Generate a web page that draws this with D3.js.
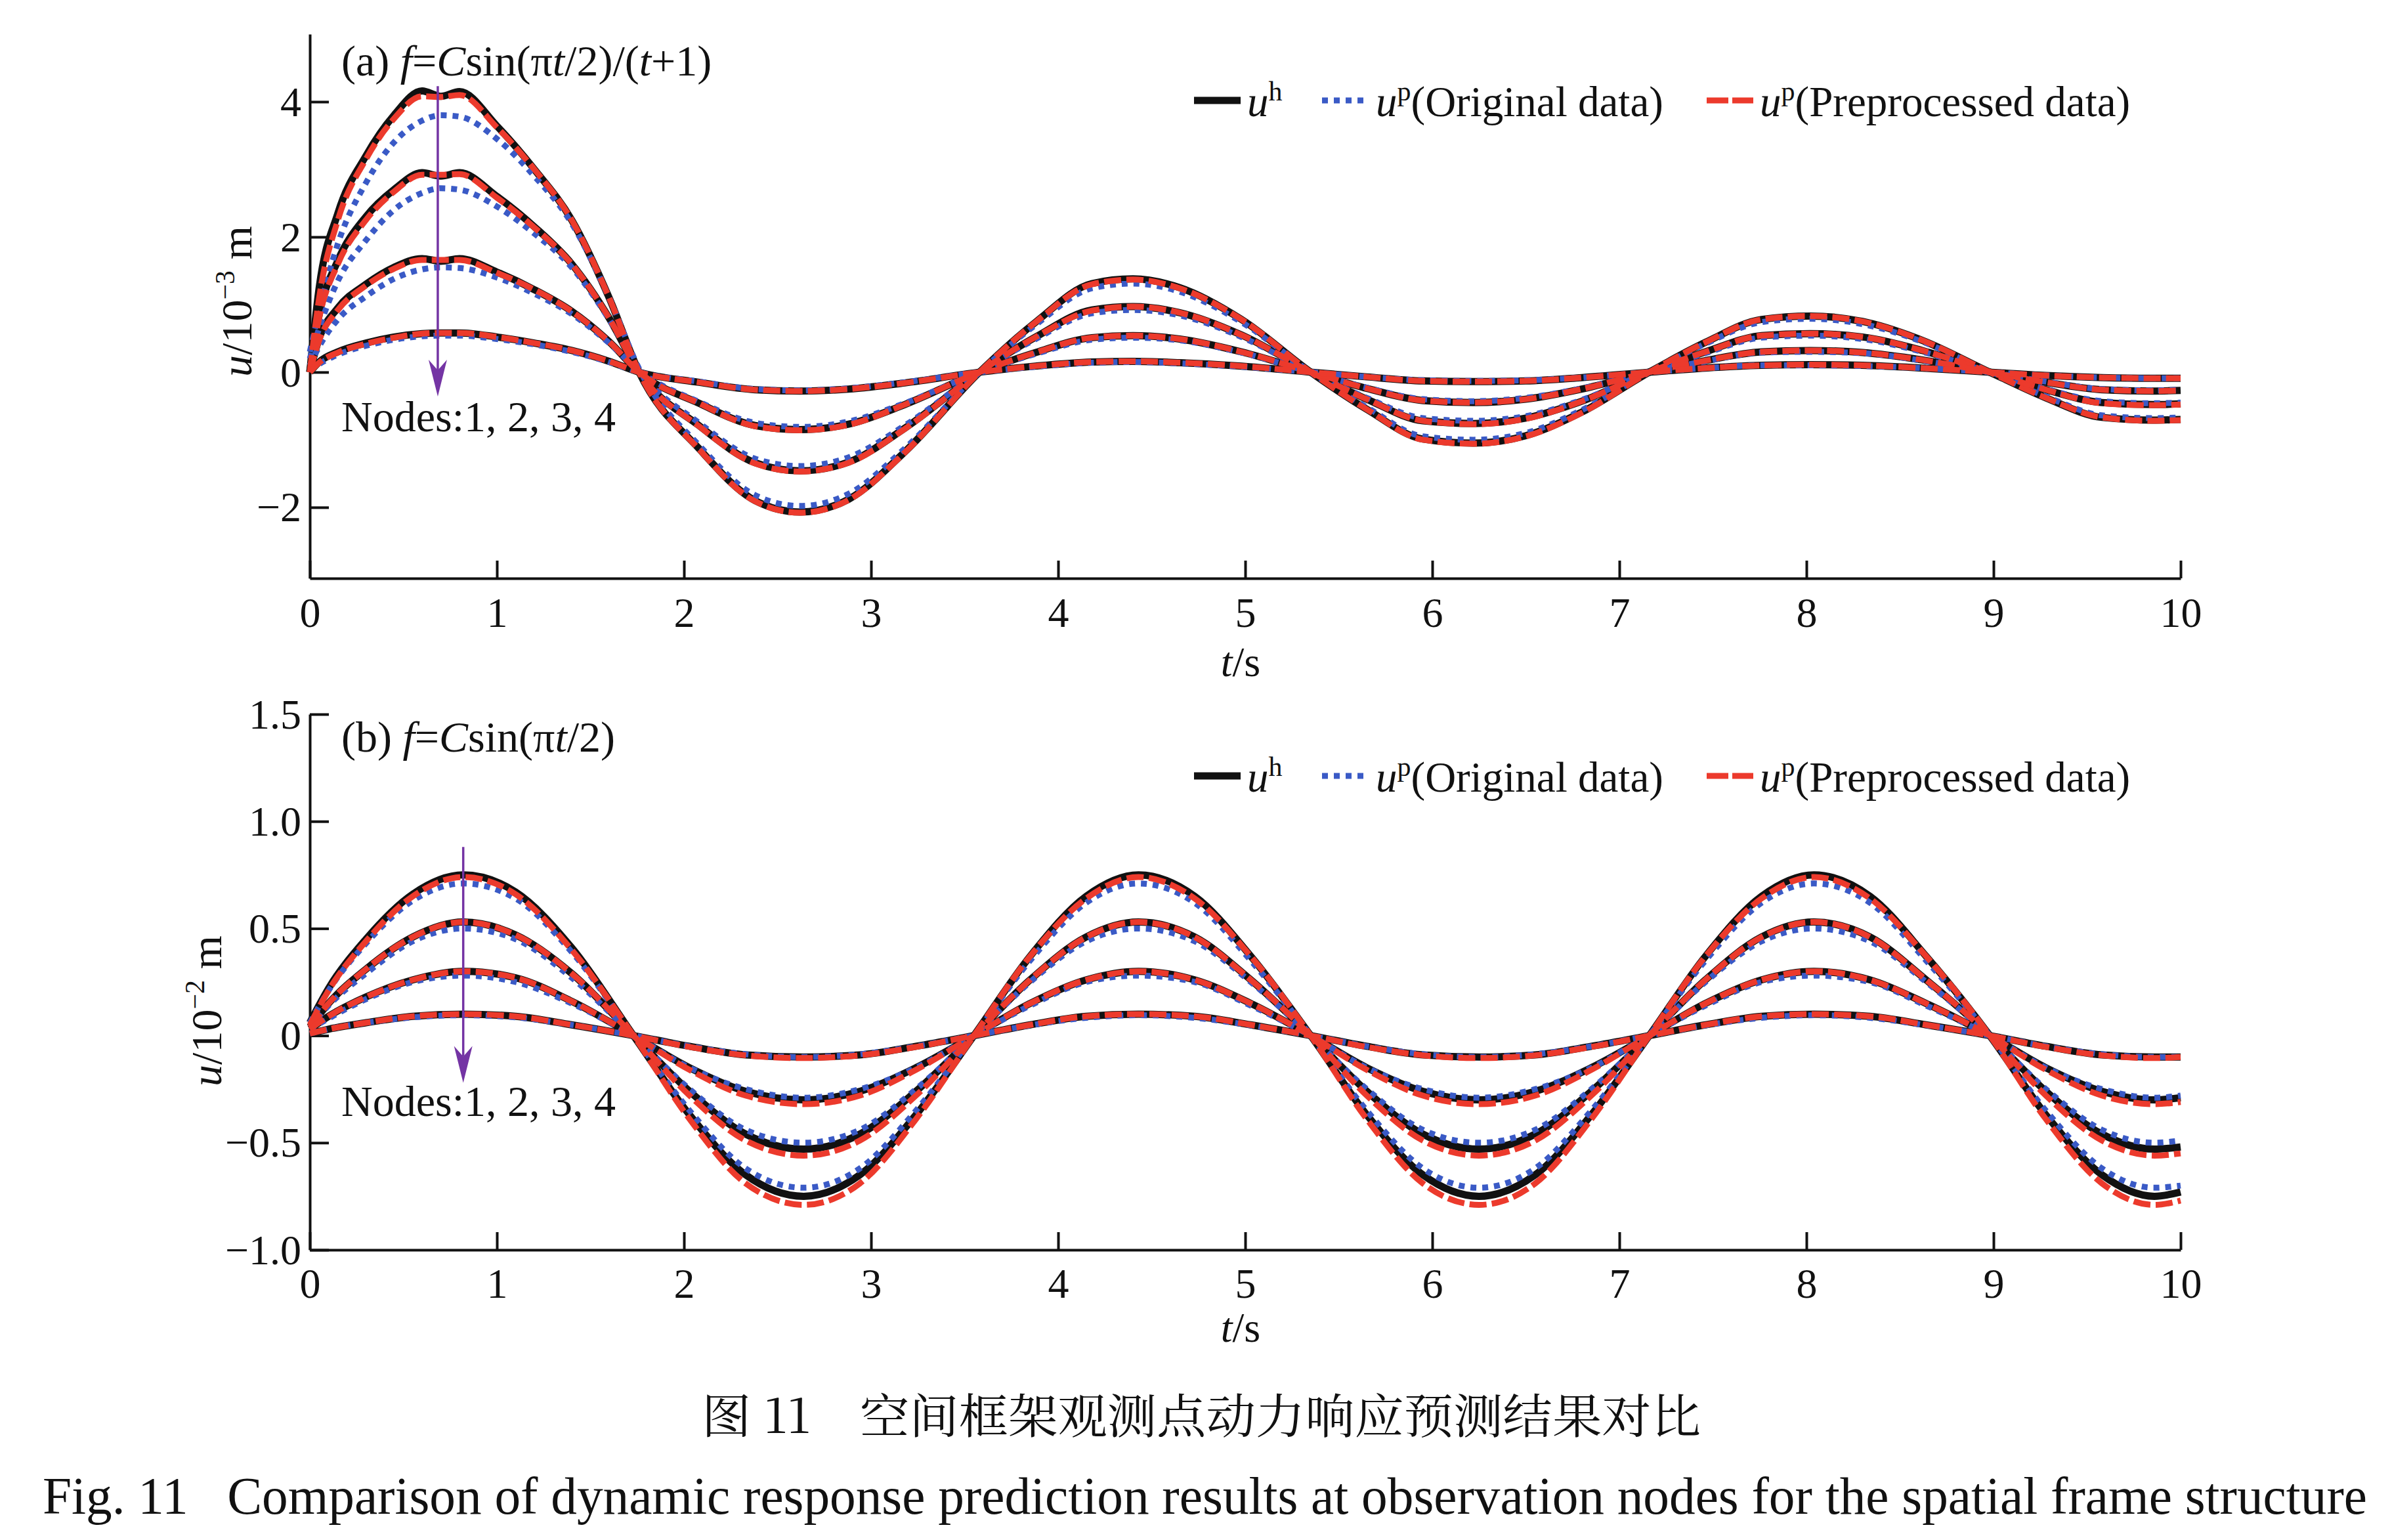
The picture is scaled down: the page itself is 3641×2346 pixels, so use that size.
<!DOCTYPE html>
<html>
<head>
<meta charset="utf-8">
<title>Fig. 11 dynamic response prediction</title>
<script src="https://d3js.org/d3.v7.min.js"></script>
<style>
  body { margin: 0; background: #fff; }
  svg text { font-family: "Liberation Serif", "DejaVu Serif", serif; fill: #111; }
  .axis path, .axis line { stroke: #111; stroke-width: 4; }
  .tick text { font-size: 64px; }
  .cn { font-family: "Noto Serif CJK SC", "Noto Sans CJK SC", sans-serif; }
</style>
</head>
<body>
<div id="chart"></div>
<script>
// ---- panel (a): f = C sin(pi t/2)/(t+1), u in 1e-3 m ----
const tA = [0, 0.05, 0.15, 0.3, 0.45, 0.6, 0.7, 0.8, 1.0, 1.2, 1.4, 1.6, 1.76,
  2.08, 2.38, 2.62, 2.88, 3.18, 3.58, 3.88, 4.18, 4.4, 4.65, 4.98, 5.35,
  5.65, 5.95, 6.22, 6.5, 6.8, 7.16, 7.46, 7.76, 8.02, 8.3, 8.62, 8.98,
  9.28, 9.58, 9.85, 10];

// u^h (reference response), nodes 1-4
const hA1 = [0, 1.25, 2.35, 3.2, 3.8, 4.16, 4.08, 4.15, 3.64, 3.0, 2.25, 1.1, 0, -1.13, -1.9, -2.07, -1.88, -1.18, 0, 0.74, 1.31, 1.38, 1.25, 0.78, 0, -0.55, -0.99, -1.05, -0.94, -0.59, 0, 0.44, 0.78, 0.83, 0.75, 0.47, 0, -0.38, -0.67, -0.71, -0.70];
const hA2 = [0, 0.85, 1.65, 2.3, 2.7, 2.95, 2.9, 2.95, 2.6, 2.15, 1.6, 0.8, 0, -0.79, -1.34, -1.46, -1.33, -0.83, 0, 0.52, 0.92, 0.97, 0.88, 0.55, 0, -0.4, -0.72, -0.76, -0.68, -0.43, 0, 0.3, 0.54, 0.57, 0.52, 0.32, 0, -0.26, -0.45, -0.48, -0.47];
const hA3 = [0, 0.5, 0.95, 1.3, 1.55, 1.68, 1.64, 1.68, 1.48, 1.22, 0.9, 0.45, 0, -0.46, -0.79, -0.85, -0.77, -0.48, 0, 0.29, 0.51, 0.54, 0.49, 0.3, 0, -0.24, -0.42, -0.45, -0.4, -0.25, 0, 0.17, 0.3, 0.32, 0.29, 0.18, 0, -0.15, -0.26, -0.28, -0.27];
const hA4 = [0, 0.15, 0.3, 0.43, 0.52, 0.57, 0.58, 0.58, 0.52, 0.43, 0.32, 0.16, 0, -0.15, -0.26, -0.28, -0.25, -0.16, 0, 0.09, 0.15, 0.16, 0.14, 0.09, 0, -0.07, -0.13, -0.14, -0.13, -0.08, 0, 0.06, 0.1, 0.11, 0.1, 0.06, 0, -0.05, -0.08, -0.09, -0.09];

// u^p from original data
const oA1 = [0.3, 0.9, 1.9, 2.8, 3.4, 3.72, 3.8, 3.78, 3.45, 2.9, 2.2, 1.1, 0.05, -1.08, -1.82, -1.98, -1.8, -1.13, 0, 0.7, 1.24, 1.31, 1.19, 0.74, 0, -0.52, -0.95, -1.0, -0.9, -0.56, 0, 0.42, 0.74, 0.79, 0.71, 0.45, 0, -0.36, -0.64, -0.68, -0.67];
const oA2 = [0.2, 0.65, 1.35, 1.95, 2.4, 2.65, 2.72, 2.7, 2.45, 2.05, 1.55, 0.78, 0.03, -0.75, -1.28, -1.39, -1.26, -0.79, 0, 0.49, 0.87, 0.92, 0.84, 0.52, 0, -0.38, -0.68, -0.72, -0.65, -0.41, 0, 0.28, 0.51, 0.54, 0.49, 0.3, 0, -0.25, -0.43, -0.46, -0.45];
const oA3 = [0.1, 0.38, 0.78, 1.12, 1.38, 1.52, 1.55, 1.54, 1.4, 1.16, 0.86, 0.43, 0.02, -0.44, -0.75, -0.81, -0.73, -0.46, 0, 0.27, 0.48, 0.51, 0.47, 0.29, 0, -0.23, -0.4, -0.43, -0.38, -0.24, 0, 0.16, 0.29, 0.3, 0.28, 0.17, 0, -0.14, -0.25, -0.27, -0.26];
const oA4 = [0.03, 0.12, 0.26, 0.39, 0.48, 0.53, 0.54, 0.54, 0.49, 0.41, 0.3, 0.15, 0, -0.14, -0.25, -0.27, -0.24, -0.15, 0, 0.08, 0.14, 0.15, 0.13, 0.08, 0, -0.07, -0.12, -0.13, -0.12, -0.08, 0, 0.06, 0.1, 0.1, 0.09, 0.06, 0, -0.05, -0.08, -0.09, -0.09];

// u^p from preprocessed data
const pA1 = [0, 1.1, 2.25, 3.15, 3.75, 4.08, 4.07, 4.1, 3.62, 3.0, 2.25, 1.1, 0, -1.14, -1.91, -2.08, -1.89, -1.19, 0, 0.74, 1.3, 1.37, 1.24, 0.78, 0, -0.55, -1.0, -1.06, -0.95, -0.6, 0, 0.44, 0.78, 0.83, 0.75, 0.47, 0, -0.38, -0.67, -0.72, -0.71];
const pA2 = [0, 0.8, 1.6, 2.25, 2.67, 2.92, 2.92, 2.93, 2.58, 2.14, 1.6, 0.8, 0, -0.8, -1.35, -1.47, -1.34, -0.84, 0, 0.52, 0.91, 0.97, 0.88, 0.55, 0, -0.4, -0.72, -0.77, -0.69, -0.43, 0, 0.3, 0.54, 0.57, 0.52, 0.32, 0, -0.26, -0.46, -0.49, -0.48];
const pA3 = [0, 0.47, 0.92, 1.28, 1.53, 1.66, 1.66, 1.66, 1.47, 1.22, 0.9, 0.45, 0, -0.46, -0.8, -0.86, -0.78, -0.48, 0, 0.29, 0.51, 0.54, 0.49, 0.3, 0, -0.24, -0.42, -0.45, -0.4, -0.25, 0, 0.17, 0.3, 0.32, 0.29, 0.18, 0, -0.15, -0.26, -0.28, -0.27];
const pA4 = [0, 0.14, 0.29, 0.42, 0.51, 0.57, 0.58, 0.58, 0.52, 0.43, 0.32, 0.16, 0, -0.15, -0.26, -0.28, -0.25, -0.16, 0, 0.09, 0.15, 0.16, 0.14, 0.09, 0, -0.07, -0.13, -0.14, -0.13, -0.08, 0, 0.06, 0.1, 0.11, 0.1, 0.06, 0, -0.05, -0.08, -0.09, -0.09];

// ---- panel (b): f = C sin(pi t/2), u in 1e-2 m ----
const tB = [0, 0.1, 0.3, 0.55, 0.82, 1.1, 1.4, 1.73, 2.03, 2.33, 2.64, 2.94, 3.24, 3.55,
  3.85, 4.15, 4.43, 4.73, 5.03, 5.35, 5.65, 5.95, 6.25, 6.55, 6.85, 7.16,
  7.46, 7.76, 8.04, 8.34, 8.64, 8.98, 9.28, 9.58, 9.86, 10];

const hB1 = [0.06, 0.22, 0.45, 0.66, 0.75, 0.67, 0.41, 0, -0.37, -0.65, -0.75, -0.65, -0.37, 0, 0.37, 0.65, 0.75, 0.65, 0.37, 0, -0.37, -0.65, -0.75, -0.65, -0.37, 0, 0.37, 0.65, 0.75, 0.65, 0.37, 0, -0.37, -0.65, -0.75, -0.73];
const hB2 = [0.04, 0.15, 0.31, 0.46, 0.53, 0.47, 0.29, 0, -0.26, -0.46, -0.53, -0.46, -0.26, 0, 0.26, 0.46, 0.53, 0.46, 0.26, 0, -0.26, -0.46, -0.53, -0.46, -0.26, 0, 0.26, 0.46, 0.53, 0.46, 0.26, 0, -0.26, -0.46, -0.53, -0.52];
const hB3 = [0.03, 0.09, 0.18, 0.26, 0.3, 0.27, 0.16, 0, -0.15, -0.26, -0.3, -0.26, -0.15, 0, 0.15, 0.26, 0.3, 0.26, 0.15, 0, -0.15, -0.26, -0.3, -0.26, -0.15, 0, 0.15, 0.26, 0.3, 0.26, 0.15, 0, -0.15, -0.26, -0.3, -0.29];
const hB4 = [0.01, 0.03, 0.06, 0.09, 0.1, 0.09, 0.05, 0, -0.05, -0.09, -0.1, -0.09, -0.05, 0, 0.05, 0.09, 0.1, 0.09, 0.05, 0, -0.05, -0.09, -0.1, -0.09, -0.05, 0, 0.05, 0.09, 0.1, 0.09, 0.05, 0, -0.05, -0.09, -0.1, -0.1];

const oB1 = [0.06, 0.21, 0.43, 0.63, 0.71, 0.64, 0.39, 0, -0.35, -0.62, -0.71, -0.62, -0.35, 0, 0.35, 0.62, 0.71, 0.62, 0.35, 0, -0.35, -0.62, -0.71, -0.62, -0.35, 0, 0.35, 0.62, 0.71, 0.62, 0.35, 0, -0.35, -0.62, -0.71, -0.7];
const oB2 = [0.04, 0.14, 0.29, 0.44, 0.5, 0.45, 0.27, 0, -0.25, -0.44, -0.5, -0.44, -0.25, 0, 0.25, 0.44, 0.5, 0.44, 0.25, 0, -0.25, -0.44, -0.5, -0.44, -0.25, 0, 0.25, 0.44, 0.5, 0.44, 0.25, 0, -0.25, -0.44, -0.5, -0.49];
const oB3 = [0.03, 0.08, 0.17, 0.25, 0.28, 0.25, 0.15, 0, -0.15, -0.25, -0.29, -0.25, -0.15, 0, 0.14, 0.25, 0.28, 0.25, 0.14, 0, -0.15, -0.25, -0.29, -0.25, -0.15, 0, 0.14, 0.25, 0.28, 0.25, 0.14, 0, -0.15, -0.25, -0.29, -0.28];
const oB4 = [0.01, 0.03, 0.06, 0.085, 0.095, 0.085, 0.05, 0, -0.05, -0.087, -0.1, -0.087, -0.05, 0, 0.048, 0.083, 0.095, 0.083, 0.048, 0, -0.05, -0.087, -0.1, -0.087, -0.05, 0, 0.048, 0.083, 0.095, 0.083, 0.048, 0, -0.05, -0.087, -0.1, -0.1];

const pB1 = [0.05, 0.21, 0.44, 0.65, 0.74, 0.66, 0.4, 0, -0.39, -0.69, -0.79, -0.69, -0.39, 0, 0.37, 0.64, 0.74, 0.64, 0.37, 0, -0.39, -0.69, -0.79, -0.69, -0.39, 0, 0.37, 0.64, 0.74, 0.64, 0.37, 0, -0.39, -0.69, -0.79, -0.77];
const pB2 = [0.04, 0.15, 0.31, 0.46, 0.53, 0.47, 0.29, 0, -0.28, -0.49, -0.56, -0.49, -0.28, 0, 0.26, 0.46, 0.53, 0.46, 0.26, 0, -0.28, -0.49, -0.56, -0.49, -0.28, 0, 0.26, 0.46, 0.53, 0.46, 0.26, 0, -0.28, -0.49, -0.56, -0.55];
const pB3 = [0.03, 0.09, 0.18, 0.26, 0.3, 0.27, 0.16, 0, -0.16, -0.28, -0.32, -0.28, -0.16, 0, 0.15, 0.26, 0.3, 0.26, 0.15, 0, -0.16, -0.28, -0.32, -0.28, -0.16, 0, 0.15, 0.26, 0.3, 0.26, 0.15, 0, -0.16, -0.28, -0.32, -0.31];
const pB4 = [0.01, 0.03, 0.06, 0.09, 0.1, 0.09, 0.05, 0, -0.053, -0.092, -0.105, -0.092, -0.053, 0, 0.05, 0.09, 0.1, 0.09, 0.05, 0, -0.053, -0.092, -0.105, -0.092, -0.053, 0, 0.05, 0.09, 0.1, 0.09, 0.05, 0, -0.053, -0.092, -0.105, -0.1];

// ticks
const xTicks = [0, 1, 2, 3, 4, 5, 6, 7, 8, 9, 10];
const yTicksA = [-2, 0, 2, 4];
const yTicksB = [-1.0, -0.5, 0, 0.5, 1.0, 1.5];

// arrow annotations [t, from u, to u]
const arrowA = [0.684, 4.23, -0.36];
const arrowB = [0.82, 0.88, -0.22];

const width = 3641, height = 2346;
const svg = d3.select('#chart').append('svg')
  .attr('width', width).attr('height', height);

// series styles: drawn black, blue, red (red on top)
const styles = [
  { key: 'h', color: '#111111', w: 11, dash: null },
  { key: 'o', color: '#3a5ac6', w: 9, dash: '9,9' },
  { key: 'p', color: '#ec3a2c', w: 9, dash: '26,8' }
];

const panels = [
  {
    t: tA, h: [hA1, hA2, hA3, hA4], o: [oA1, oA2, oA3, oA4], p: [pA1, pA2, pA3, pA4],
    yDomain: [-3.05, 5.0], yRange: [881, 52], yTicks: yTicksA, yFmt: d3.format('d'),
    title: 'a', force: true, exp: '\u22123', arrow: arrowA,
    titleY: 115, legendY: 153, nodesY: 657, ylabel: [383, 459], xlabelY: 1030, tickY: 74
  },
  {
    t: tB, h: [hB1, hB2, hB3, hB4], o: [oB1, oB2, oB3, oB4], p: [pB1, pB2, pB3, pB4],
    yDomain: [-1.0, 1.5], yRange: [1904, 1088], yTicks: yTicksB,
    yFmt: d => d === 0 ? '0' : d3.format('.1f')(d),
    title: 'b', force: false, exp: '\u22122', arrow: arrowB,
    titleY: 1145, legendY: 1182, nodesY: 1700, ylabel: [337, 1540], xlabelY: 2044, tickY: 73
  }
];

const x = d3.scaleLinear().domain([0, 10]).range([472, 3322]);

panels.forEach(pn => {
  const y = d3.scaleLinear().domain(pn.yDomain).range(pn.yRange);
  const g = svg.append('g');

  // axes
  const xAxis = d3.axisBottom(x).tickValues(xTicks).tickSizeInner(-27).tickSizeOuter(0).tickFormat(d3.format('d'));
  const gx = g.append('g').attr('class', 'axis')
    .attr('transform', `translate(0,${y.range()[0]})`).call(xAxis);
  gx.selectAll('.tick text').attr('y', pn.tickY).attr('dy', 0);

  const yAxis = d3.axisLeft(y).tickValues(pn.yTicks).tickSizeInner(-29).tickSizeOuter(0).tickFormat(pn.yFmt);
  const gy = g.append('g').attr('class', 'axis')
    .attr('transform', `translate(${x(0)},0)`).call(yAxis);
  gy.selectAll('.tick text').attr('x', -13).attr('dy', '0.33em');
  g.selectAll('.axis').attr('font-family', null).attr('font-size', null);

  // curves
  const line = d3.line()
    .x((d, i) => x(pn.t[i]))
    .y(d => y(d))
    .curve(d3.curveMonotoneX);

  styles.forEach(s => {
    pn[s.key].forEach(series => {
      g.append('path')
        .attr('d', line(series))
        .attr('fill', 'none')
        .attr('stroke', s.color)
        .attr('stroke-width', s.w)
        .attr('stroke-dasharray', s.dash)
        .attr('stroke-linejoin', 'round');
    });
  });

  // arrow
  const [at, a0, a1] = pn.arrow;
  const ax = x(at), ay0 = y(a0), ay1 = y(a1);
  g.append('line')
    .attr('x1', ax).attr('x2', ax).attr('y1', ay0).attr('y2', ay1 - 40)
    .attr('stroke', '#7434a4').attr('stroke-width', 3.5);
  g.append('path')
    .attr('d', `M${ax},${ay1} L${ax - 14},${ay1 - 56} L${ax},${ay1 - 40} L${ax + 14},${ay1 - 56} Z`)
    .attr('fill', '#7434a4');

  // panel title
  const tt = g.append('text').attr('x', 520).attr('y', pn.titleY).attr('font-size', 66);
  tt.append('tspan').text(`(${pn.title}) `);
  tt.append('tspan').attr('font-style', 'italic').text('f');
  tt.append('tspan').text('=');
  tt.append('tspan').attr('font-style', 'italic').text('C');
  tt.append('tspan').text('sin(\u03c0');
  tt.append('tspan').attr('font-style', 'italic').text('t');
  tt.append('tspan').text('/2)');
  if (pn.force) {
    tt.append('tspan').text('/(');
    tt.append('tspan').attr('font-style', 'italic').text('t');
    tt.append('tspan').text('+1)');
  }

  // nodes note
  g.append('text').attr('x', 520).attr('y', pn.nodesY).attr('font-size', 66)
    .text('Nodes:1, 2, 3, 4');

  // legend
  const lg = [
    { s: styles[0], x0: 1819, tx: 1900, sup: 'h', rest: '' },
    { s: styles[1], x0: 2014, tx: 2096, sup: 'p', rest: '(Original data)' },
    { s: styles[2], x0: 2600, tx: 2681, sup: 'p', rest: '(Preprocessed data)' }
  ];
  lg.forEach(it => {
    g.append('line')
      .attr('x1', it.x0).attr('x2', it.x0 + 71)
      .attr('y1', pn.legendY).attr('y2', pn.legendY)
      .attr('stroke', it.s.color).attr('stroke-width', it.s.w)
      .attr('stroke-dasharray', it.s.key === 'p' ? '33,6' : it.s.dash);
    const lt = g.append('text').attr('x', it.tx).attr('y', pn.legendY + 24).attr('font-size', 65);
    lt.append('tspan').attr('font-style', 'italic').text('u');
    lt.append('tspan').attr('font-size', 42).attr('dy', -24).text(it.sup);
    if (it.rest) lt.append('tspan').attr('dy', 24).text(it.rest);
  });

  // axis labels
  const xl = g.append('text').attr('x', 1890).attr('y', pn.xlabelY)
    .attr('text-anchor', 'middle').attr('font-size', 64);
  xl.append('tspan').attr('font-style', 'italic').text('t');
  xl.append('tspan').text('/s');

  const yl = g.append('text')
    .attr('transform', `translate(${pn.ylabel[0]},${pn.ylabel[1]}) rotate(-90)`)
    .attr('text-anchor', 'middle').attr('font-size', 66);
  yl.append('tspan').attr('font-style', 'italic').text('u');
  yl.append('tspan').text('/10');
  yl.append('tspan').attr('font-size', 42).attr('dy', -26).text(pn.exp);
  yl.append('tspan').attr('dy', 26).text('\u00a0m');
});

// captions
svg.append('text').attr('class', 'cn')
  .attr('x', 1069).attr('y', 2183).attr('font-size', 72)
  .attr('textLength', 1522).attr('lengthAdjust', 'spacingAndGlyphs')
  .text('图 11\u3000空间框架观测点动力响应预测结果对比');

svg.append('text')
  .attr('x', 65).attr('y', 2306).attr('font-size', 80)
  .attr('textLength', 3541).attr('lengthAdjust', 'spacingAndGlyphs')
  .text('Fig. 11\u2002 Comparison of dynamic response prediction results at observation nodes for the spatial frame structure');
</script>
</body>
</html>
